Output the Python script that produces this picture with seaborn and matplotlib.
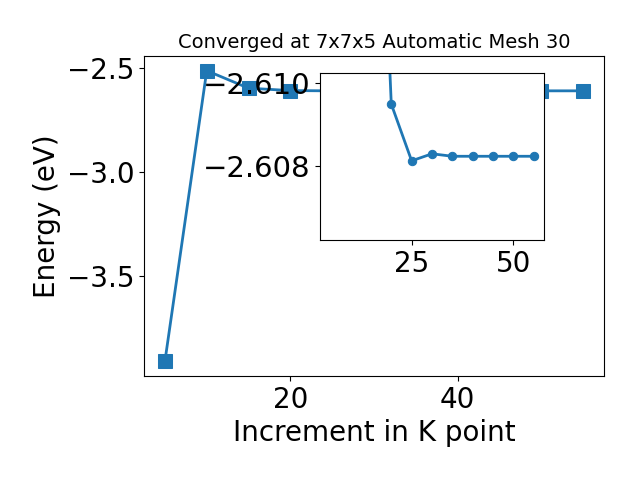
import matplotlib
matplotlib.use("Agg")
import matplotlib.pyplot as plt
import seaborn as sns
import numpy as np

# Data
kpoints = [5, 10, 15, 20, 25, 30, 35, 40, 45, 50, 55]
energy = [-3.91, -2.514, -2.598, -2.6095, -2.61087, -2.6107, -2.61076,
          -2.61076, -2.61076, -2.61076, -2.61076]

# inset shows the converging tail (from 15 onward)
inset_kpoints = kpoints[2:]
inset_energy = energy[2:]

main_xticks = [20, 40]
main_yticks = [-3.5, -3.0, -2.5]
inset_xticks = [25, 50]
inset_ytick_pos = [-2.609, -2.611]
inset_ytick_labels = ["\u22122.610", "\u22122.608"]
title = "Converged at 7x7x5 Automatic Mesh 30"

color = "#1f77b4"

fig = plt.figure(figsize=(6.4, 4.8), dpi=100)
ax = fig.add_axes([0.225, 0.217, 0.719, 0.666])
sns.lineplot(x=kpoints, y=energy, ax=ax, marker="s", markersize=10,
             linewidth=2, color=color, markeredgecolor=color)
ax.set_xticks(main_xticks)
ax.set_yticks(main_yticks)
ax.tick_params(labelsize=20)
ax.set_xlabel("Increment in K point", fontsize=20)
ax.set_ylabel("Energy (eV)", fontsize=20)
ax.set_title(title, fontsize=14)

axin = fig.add_axes([0.5, 0.5, 0.35, 0.348])
sns.lineplot(x=inset_kpoints, y=inset_energy, ax=axin, marker="o", markersize=6,
             linewidth=2, color=color, markeredgecolor=color)
axin.set_xlim(ax.get_xlim())
axin.set_ylim(-2.61278, -2.60875)
axin.set_xticks(inset_xticks)
axin.set_yticks(inset_ytick_pos)
axin.set_yticklabels(inset_ytick_labels)
axin.tick_params(axis="x", labelsize=20)
axin.tick_params(axis="y", labelsize=21)

fig.savefig("out.png", dpi=100)
